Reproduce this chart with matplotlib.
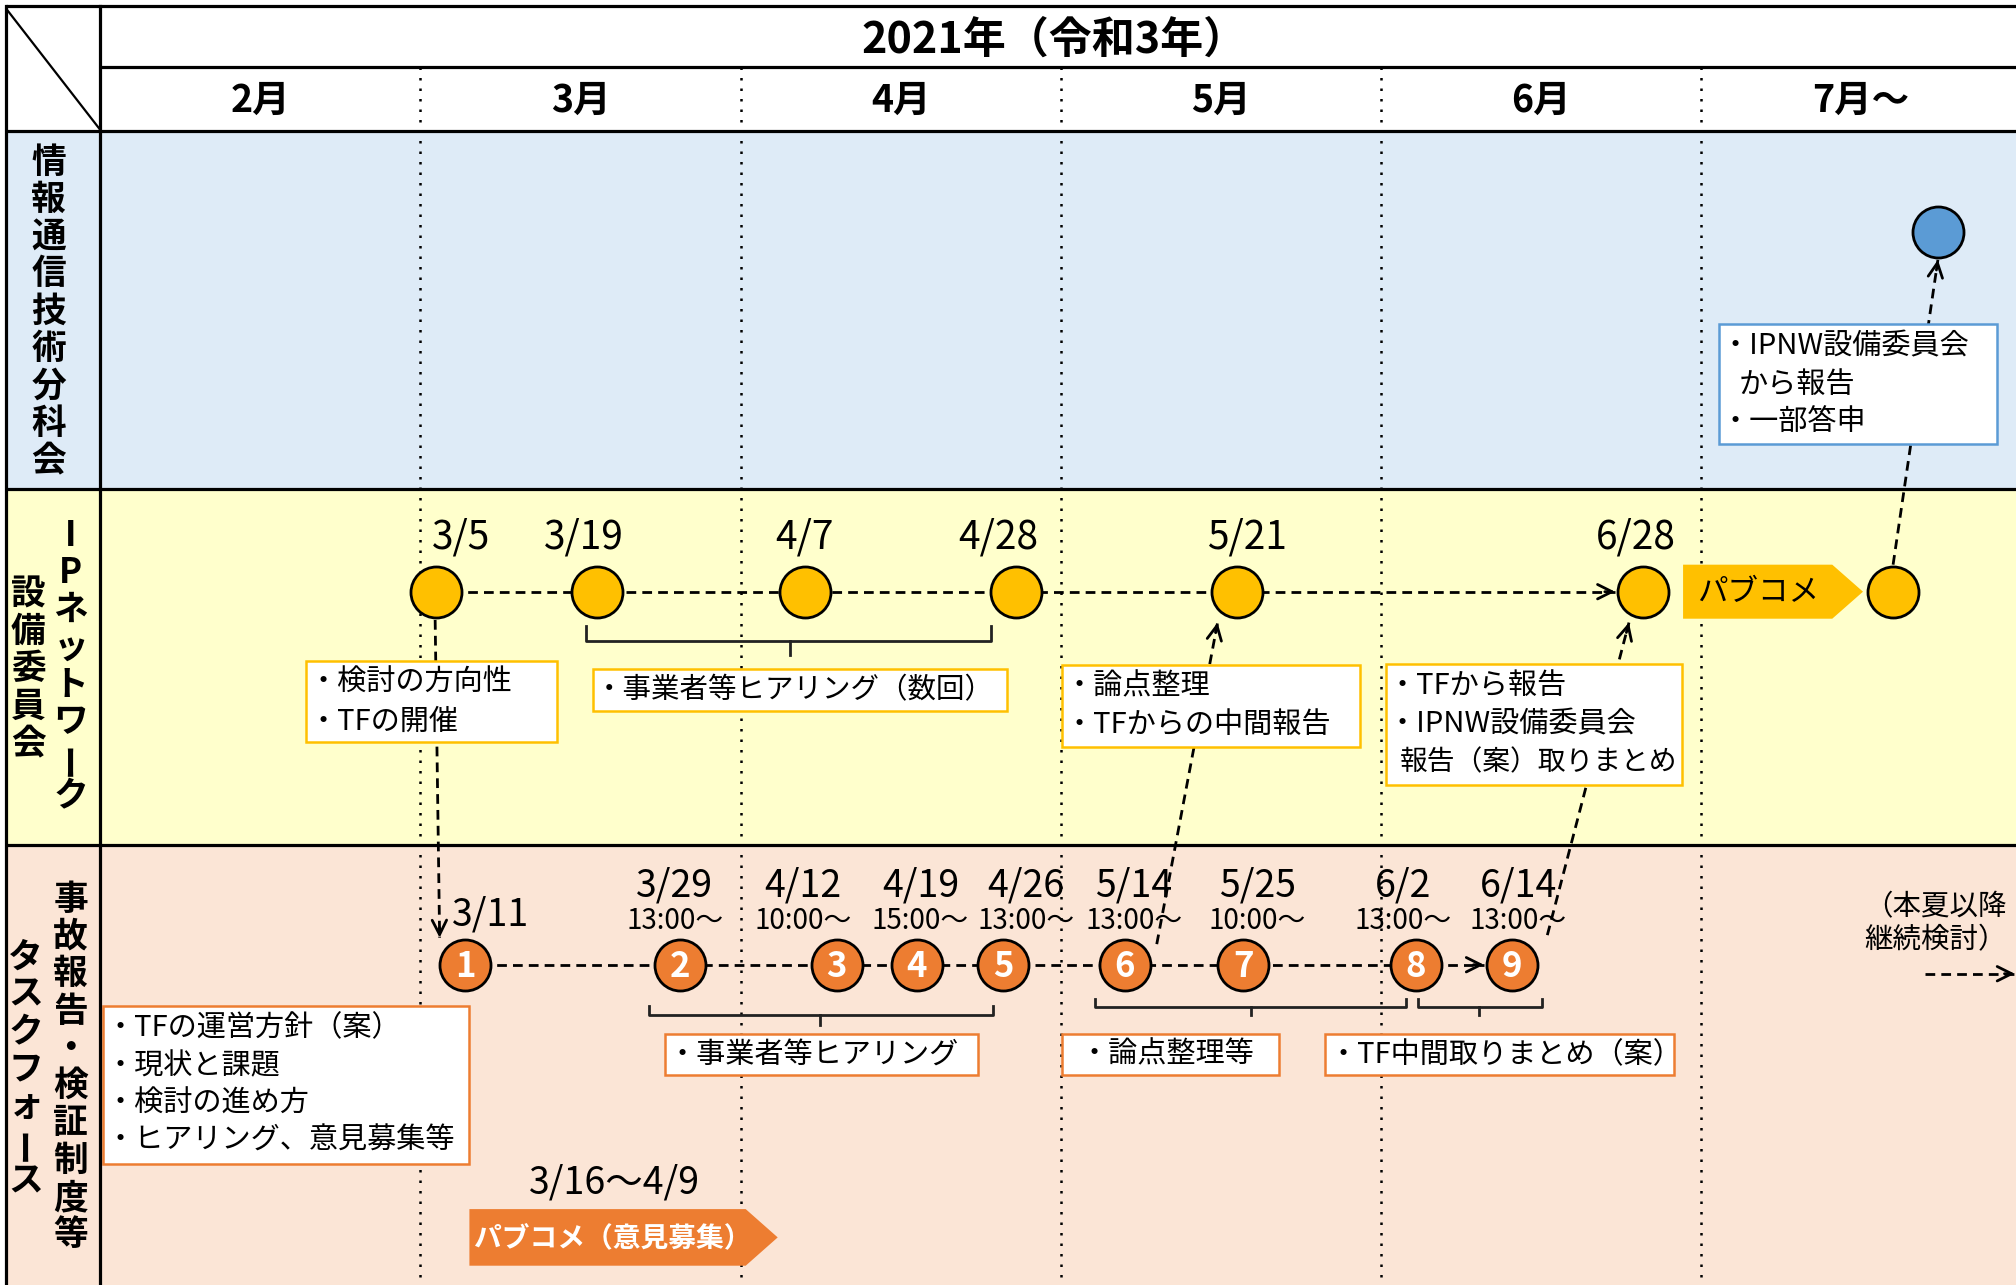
import math
import matplotlib
matplotlib.use("Agg")
import matplotlib.pyplot as plt
from matplotlib.patches import Rectangle, Polygon

plt.rcParams['font.family'] = ['Noto Sans CJK JP', 'DejaVu Sans']

# ---- data ----
year_title = "2021年（令和3年）"
months = ["2月", "3月", "4月", "5月", "6月", "7月～"]

lane_council = "情報通信技術分科会"
lane_ipnw = ["IPネットワーク", "設備委員会"]
lane_tf = ["事故報告・検証制度等", "タスクフォース"]

# IPネットワーク設備委員会 (x = months counted from 1 Feb)
ipnw_dates = ["3/5", "3/19", "4/7", "4/28", "5/21", "6/28"]
ipnw_pos = [1.05, 1.55, 2.20, 2.86, 3.55, 4.82]
ipnw_after = 5.60      # meeting after the public comment
council_pos = 5.74     # 分科会

# task force meetings
tf_numbers = ["1", "2", "3", "4", "5", "6", "7", "8", "9"]
tf_dates = ["3/11", "3/29", "4/12", "4/19", "4/26", "5/14", "5/25", "6/2", "6/14"]
tf_times = ["", "13:00～", "10:00～", "15:00～", "13:00～", "13:00～", "10:00～", "13:00～", "13:00～"]
tf_pos = [1.14, 1.81, 2.30, 2.55, 2.82, 3.20, 3.57, 4.11, 4.41]

pubcom_period = "3/16～4/9"

# ---- layout (reference pixel rows, month columns) ----
PX = 249.0                      # pixels per month column
Y_IPNW, Y_TF, Y_COUNCIL = 460, 750, 180
R = 21 / PX                     # circle radius in months
ipnw_label_dx = [19, -10, 0, -14, 8, -6]
tf_label_dx = [20, -4, -26, 3, 18, 7, 11, -10, 5]

BLUE, YELLOW, ORANGE = '#5B9BD5', '#FFC000', '#ED7D31'
DASH = (0, (3.5, 2.2))

fig = plt.figure(figsize=(20.16, 12.85), dpi=100)
ax = fig.add_axes([0, 0, 1, 1])
ax.set_xlim(-78 / PX, 1490 / PX)
ax.set_ylim(999, 0)
ax.axis('off')

left = -73 / PX
right = 1490 / PX

# lane backgrounds
for y0, y1, col in [(102, 380, '#DEEBF7'), (380, 657, '#FFFFCC'), (657, 1000, '#FBE5D6')]:
    ax.add_patch(Rectangle((left, y0), right - left, y1 - y0, fc=col, ec='none', zorder=0))

# grid lines
for x in range(1, 6):
    ax.plot([x, x], [52, 999], color='black', lw=1.8, ls=(0, (1, 3.2)), zorder=1)
for y, x0 in [(5, left), (52, 0), (102, left), (380, left), (657, left)]:
    ax.plot([x0, right], [y, y], color='black', lw=2.3, zorder=6, solid_capstyle='butt')
ax.plot([left, left], [5, 999], color='black', lw=2.3, zorder=6)
ax.plot([0, 0], [5, 999], color='black', lw=2.3, zorder=6)
ax.plot([left, 0], [7, 101], color='black', lw=1.6, zorder=6)

# header
ax.text(2.98, 31, year_title, ha='center', va='center', fontsize=31, fontweight='bold')
for i, mname in enumerate(months):
    ax.text(i + 0.5, 78, mname, ha='center', va='center', fontsize=27, fontweight='bold')


def vertical(x, y0, s, step=29, size=25):
    for i, ch in enumerate(s):
        rot = 90 if ch == 'ー' else 0
        ax.text(x, y0 + i * step, ch, rotation=rot, ha='center', va='center',
                fontsize=size, fontweight='bold', zorder=7)


vertical(-40 / PX, 126, lane_council)
vertical(-23 / PX, 416, lane_ipnw[0])
vertical(-56 / PX, 462, lane_ipnw[1])
vertical(-23 / PX, 699, lane_tf[0])
vertical(-58 / PX, 744, lane_tf[1])


def dashed(p0, p1, head=False):
    ax.plot([p0[0], p1[0]], [p0[1], p1[1]], color='black', lw=2, ls=DASH, zorder=2)
    if head:
        L = math.hypot((p1[0] - p0[0]) * PX, p1[1] - p0[1])
        f = 8 / L
        back = (p1[0] - f * (p1[0] - p0[0]), p1[1] - f * (p1[1] - p0[1]))
        ax.annotate('', xy=p1, xytext=back, zorder=2,
                    arrowprops=dict(arrowstyle='->', lw=2, mutation_scale=26,
                                    shrinkA=0, shrinkB=0, color='black'))


def note(x0, x1, y0, y1, ec, lines, size=21):
    ax.add_patch(Rectangle((x0, y0), x1 - x0, y1 - y0, fc='white', ec=ec, lw=1.8, zorder=3))
    for tx, ty, t in lines:
        ax.text(tx, ty, t, ha='left', va='center', fontsize=size, zorder=5)


def bracket(x0, x1, xc, ytop, ymid, ybot):
    ax.plot([x0, x0, x1, x1], [ytop, ymid, ymid, ytop], color='#222222', lw=2, zorder=2)
    ax.plot([xc, xc], [ymid, ybot], color='#222222', lw=2, zorder=2)


def pentagon(x0, xb, xt, y0, y1, col):
    ym = (y0 + y1) / 2
    ax.add_patch(Polygon([(x0, y0), (xb, y0), (xt, ym), (xb, y1), (x0, y1)],
                         closed=True, fc=col, ec='none', zorder=3))


# ---- IPネットワーク設備委員会 lane ----
dashed((ipnw_pos[0], Y_IPNW), (ipnw_pos[-1] - R - 0.004, Y_IPNW), head=True)
ax.scatter(ipnw_pos + [ipnw_after], [Y_IPNW] * (len(ipnw_pos) + 1), s=1350,
           c=YELLOW, edgecolors='black', linewidths=2, zorder=4)
for p, d, dx in zip(ipnw_pos, ipnw_dates, ipnw_label_dx):
    ax.text(p + dx / PX, 418, d, ha='center', va='center', fontsize=28, zorder=5)

pentagon(4.944, 5.410, 5.506, 439, 481, YELLOW)
ax.text(5.177, 461, "パブコメ", ha='center', va='center', fontsize=22, zorder=5)

bracket(1.518, 2.783, 2.153, 487, 498, 509)
note(1.538, 2.831, 520, 553, YELLOW, [(1.545, 537, "・事業者等ヒアリング（数回）")], size=20.5)
note(0.643, 1.426, 514, 577, YELLOW, [(0.651, 531, "・検討の方向性"), (0.651, 561, "・TFの開催")])
note(3.004, 3.936, 517, 581, YELLOW, [(3.012, 534, "・論点整理"), (3.012, 564, "・TFからの中間報告")])
note(4.016, 4.940, 516, 610, YELLOW, [(4.020, 533, "・TFから報告"), (4.020, 563, "・IPNW設備委員会")])
ax.text(4.058, 593, "報告（案）取りまとめ", ha='left', va='center', fontsize=20, zorder=5)

# ---- 分科会 lane ----
dashed((ipnw_after, Y_IPNW - 21), (council_pos, Y_COUNCIL + 22), head=True)
ax.scatter([council_pos], [Y_COUNCIL], s=1350, c=BLUE, edgecolors='black', linewidths=2, zorder=4)
note(5.056, 5.924, 252, 345, BLUE, [(5.062, 269, "・IPNW設備委員会"), (5.118, 299, "から報告"),
                                    (5.062, 328, "・一部答申")])

# ---- タスクフォース lane ----
dashed((tf_pos[0], Y_TF), (tf_pos[7], Y_TF))
dashed((tf_pos[7], Y_TF), (tf_pos[8] - R - 0.004, Y_TF), head=True)
ax.scatter(tf_pos, [Y_TF] * len(tf_pos), s=1350, c=ORANGE, edgecolors='black', linewidths=2, zorder=4)
for p, n, d, t, dx in zip(tf_pos, tf_numbers, tf_dates, tf_times, tf_label_dx):
    ax.text(p, Y_TF + 1, n, ha='center', va='center', fontsize=25, color='white',
            fontweight='bold', zorder=5)
    if t:
        ax.text(p + dx / PX, 689, d, ha='center', va='center', fontsize=27, zorder=5)
        ax.text(p + dx / PX, 716, t, ha='center', va='center', fontsize=20, zorder=5)
    else:
        ax.text(p + dx / PX, 711, d, ha='center', va='center', fontsize=27, zorder=5)

bracket(1.715, 2.787, 2.249, 782, 789, 797)
bracket(3.108, 4.080, 3.594, 777, 783, 789)
bracket(4.116, 4.502, 4.305, 777, 783, 789)
note(1.763, 2.743, 804, 836, ORANGE, [(1.773, 820, "・事業者等ヒアリング")])
note(3.004, 3.683, 804, 836, ORANGE, [(3.060, 820, "・論点整理等")])
note(3.827, 4.916, 804, 836, ORANGE, [(3.835, 820, "・TF中間取りまとめ（案）")])
note(0.008, 1.153, 782, 905, ORANGE, [(0.016, 799, "・TFの運営方針（案）"), (0.016, 829, "・現状と課題"),
                                      (0.016, 858, "・検討の進め方"), (0.016, 887, "・ヒアリング、意見募集等")])

ax.text(1.606, 920, pubcom_period, ha='center', va='center', fontsize=27, zorder=5)
pentagon(1.153, 2.016, 2.116, 940, 984, ORANGE)
ax.text(1.60, 963, "パブコメ（意見募集）", ha='center', va='center', fontsize=20,
        color='white', fontweight='bold', zorder=5)

ax.text(5.731, 705, "（本夏以降", ha='center', va='center', fontsize=20.5, zorder=5)
ax.text(5.731, 731, "継続検討）", ha='center', va='center', fontsize=20.5, zorder=5)
dashed((5.70, 757), (5.98, 757), head=True)

# ---- connectors between lanes ----
dashed((ipnw_pos[0] - 0.004, Y_IPNW + 22), (tf_pos[0] - 0.08, 729), head=True)
dashed((tf_pos[5] + 0.10, 734), (ipnw_pos[4] - 0.06, 484), head=True)
dashed((tf_pos[8] + 0.11, 727), (ipnw_pos[5] - 0.045, 484), head=True)

fig.savefig("out.png", dpi=100)
